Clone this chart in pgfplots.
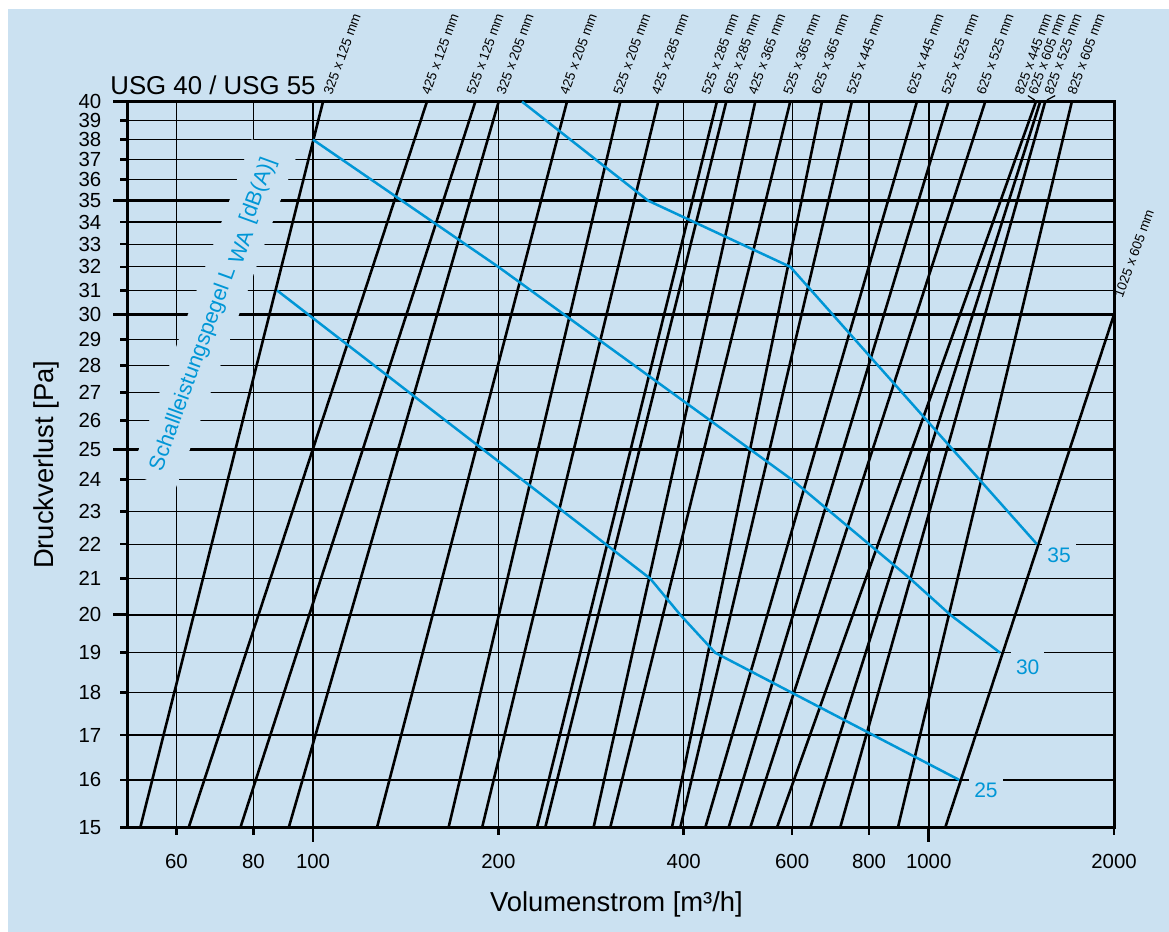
\documentclass[border=0pt]{standalone}
\usepackage{fontspec}
\setmainfont{Liberation Sans}
\usepackage{pgfplots}
\pgfplotsset{compat=1.18}
\definecolor{bgblue}{RGB}{203,225,241}
\definecolor{lwblue}{RGB}{0,150,214}
\begin{document}
\begin{tikzpicture}[
  lab/.style={font=\fontsize{6.7}{8}\selectfont, inner sep=0pt, anchor=south west, rotate=70},
  numlab/.style={fill=bgblue, text=lwblue, inner xsep=2.5pt, inner ysep=4pt, font=\fontsize{10.5}{12}\selectfont},
  bl/.style={black, line width=1.3pt},
  lw/.style={lwblue, line width=1.25pt},
]
\fill[bgblue] (-59.85pt,-52.15pt) rectangle (520.65pt,409.35pt);
\path[use as bounding box] (-63.85pt,-52.15pt) rectangle (520.65pt,413.85pt);
\begin{axis}[
  at={(0,0)}, anchor=south west,
  scale only axis, width=493.15pt, height=363pt,
  xmode=log, ymode=log,
  xmin=50, xmax=2000, ymin=15, ymax=40,
  clip=false,
  axis line style={line width=1.5pt},
  tick align=inside, tick pos=left,
  major tick length=-3.85pt,
  minor tick num=0,
  tick style={line width=1.3pt,black},
  xtick={60,80,200,400,600,800,2000},
  xticklabels={60,80,200,400,600,800,2000},
  extra x ticks={100,1000},
  extra x tick labels={100,1000},
  ytick={15,16,17,18,19,21,22,23,24,26,27,28,29,31,32,33,34,36,37,38,39},
  yticklabels={15,16,17,18,19,21,22,23,24,26,27,28,29,31,32,33,34,36,37,38,39},
  extra y ticks={20,25,30,35,40},
  extra y tick labels={20,25,30,35,40},
  grid=major,
  major grid style={line width=0.6pt,black},
  extra tick style={major tick length=-7.35pt, major grid style={line width=1.2pt,black}},
  ticklabel style={font=\fontsize{10.2}{12}\selectfont},
  yticklabel style={anchor=east, inner sep=0pt, xshift=-13pt},
  xticklabel style={anchor=north, inner sep=0pt, yshift=-13pt},
]
% title and axis labels
\node[anchor=base west, inner sep=0pt, font=\fontsize{12.9}{15}\selectfont] at ([shift={(-8.85pt,3.35pt)}]rel axis cs:0,1) {USG 40 / USG 55};
\node[font=\fontsize{13.7}{16}\selectfont, rotate=90] at ([shift={(-40.4pt,0pt)}]rel axis cs:0,0.5) {Druckverlust [Pa]};
\node[font=\fontsize{13.7}{16}\selectfont] at ([shift={(-2.2pt,-38.5pt)}]rel axis cs:0.5,0) {Volumenstrom [m³/h]};

% gaps in the grid behind texts
\node[fill=bgblue, text=lwblue, rotate=70, minimum width=178pt, minimum height=24pt, inner sep=0pt,
  font=\fontsize{10.8}{13}\selectfont] at (axis cs:68.9,30)
  {Schallleistungspegel L\hspace{0.3em}\raisebox{-0.4ex}{WA}\hspace{0.4em}[dB(A)]};
\node[numlab] at (axis cs:1629,21.68) {35};
\node[numlab] at (axis cs:1448,18.63) {30};
\node[numlab] at (axis cs:1239,15.78) {25};

% duct sizes
\addplot[bl] coordinates {(52.4,15) (103.8,40)};
\addplot[bl] coordinates {(62.8,15) (153.1,40)};
\addplot[bl] coordinates {(76.2,15) (183.5,40)};
\addplot[bl] coordinates {(91.3,15) (200.2,40)};
\addplot[bl] coordinates {(127.0,15) (258.5,40)};
\addplot[bl] coordinates {(166.0,15) (315.6,40)};
\addplot[bl] coordinates {(188.2,15) (363.7,40)};
\addplot[bl] coordinates {(231.0,15) (452.9,40)};
\addplot[bl] coordinates {(238.3,15) (469.0,40)};
\addplot[bl] coordinates {(285.5,15) (522.7,40)};
\addplot[bl] coordinates {(303.9,15) (595.8,40)};
\addplot[bl] coordinates {(382.8,15) (670.9,40)};
\addplot[bl] coordinates {(394.9,15) (750.3,40)};
\addplot[bl] coordinates {(433.6,15) (956.9,40)};
\addplot[bl] coordinates {(473.1,15) (1076.8,40)};
\addplot[bl] coordinates {(513.0,15) (1235.4,40)};
\addplot[bl] coordinates {(566.9,15) (1493.3,40)};
\addplot[bl] coordinates {(642.2,15) (1517.5,40)};
\addplot[bl] coordinates {(718.2,15) (1546.1,40)};
\addplot[bl] coordinates {(891.2,15) (1708.3,40)};
\addplot[bl] coordinates {(1063.6,15) (2000,30)};

% sound power level lines
\addplot[lw] coordinates {(218.5,40) (350,35) (596,32) (1499,22)};
\addplot[lw] coordinates {(100,38) (200,32) (600,24) (933,21) (1084,20) (1306,19)};
\addplot[lw] coordinates {(87.4,31) (353,21) (394.9,20) (450,19) (1121,16)};

% size labels
\node[lab] at ([shift={(4.65pt,2.85pt)}]axis cs:103.8,40) {325 x 125 mm};
\node[lab] at ([shift={(1.65pt,2.85pt)}]axis cs:153.1,40) {425 x 125 mm};
\node[lab] at ([shift={(0pt,2.85pt)}]axis cs:183.5,40) {525 x 125 mm};
\node[lab] at ([shift={(3.35pt,2.85pt)}]axis cs:200.2,40) {325 x 205 mm};
\node[lab] at ([shift={(0.8pt,2.85pt)}]axis cs:258.5,40) {425 x 205 mm};
\node[lab] at ([shift={(0.85pt,2.85pt)}]axis cs:315.6,40) {525 x 205 mm};
\node[lab] at ([shift={(1pt,2.85pt)}]axis cs:363.7,40) {425 x 285 mm};
\node[lab] at ([shift={(-3.35pt,2.85pt)}]axis cs:452.9,40) {525 x 285 mm};
\node[lab] at ([shift={(2.85pt,2.85pt)}]axis cs:469.0,40) {625 x 285 mm};
\node[lab] at ([shift={(0.85pt,2.85pt)}]axis cs:522.7,40) {425 x 365 mm};
\node[lab] at ([shift={(0.85pt,2.85pt)}]axis cs:595.8,40) {525 x 365 mm};
\node[lab] at ([shift={(-0.85pt,2.85pt)}]axis cs:670.9,40) {625 x 365 mm};
\node[lab] at ([shift={(1.65pt,2.85pt)}]axis cs:750.3,40) {525 x 445 mm};
\node[lab] at ([shift={(-0.85pt,2.85pt)}]axis cs:956.9,40) {625 x 445 mm};
\node[lab] at ([shift={(0.85pt,2.85pt)}]axis cs:1076.8,40) {525 x 525 mm};
\node[lab] at ([shift={(0pt,2.85pt)}]axis cs:1235.4,40) {625 x 525 mm};
\node[lab] at ([shift={(-6.2pt,2.85pt)}]axis cs:1493.3,40) {825 x 445 mm};
\node[lab] at ([shift={(-1.5pt,2.85pt)}]axis cs:1517.5,40) {625 x 605 mm};
\node[lab] at ([shift={(4pt,2.85pt)}]axis cs:1546.1,40) {825 x 525 mm};
\node[lab] at ([shift={(2.15pt,2.85pt)}]axis cs:1708.3,40) {825 x 605 mm};
\node[lab] at ([shift={(4.5pt,7.8pt)}]axis cs:2000,30) {1025 x 605 mm};
\draw[line width=0.6pt] (axis cs:1449,40.33) -- (axis cs:1486,40.09);
\draw[line width=0.6pt] (axis cs:1556,40.09) -- (axis cs:1605,40.33);
\end{axis}
\end{tikzpicture}
\end{document}
